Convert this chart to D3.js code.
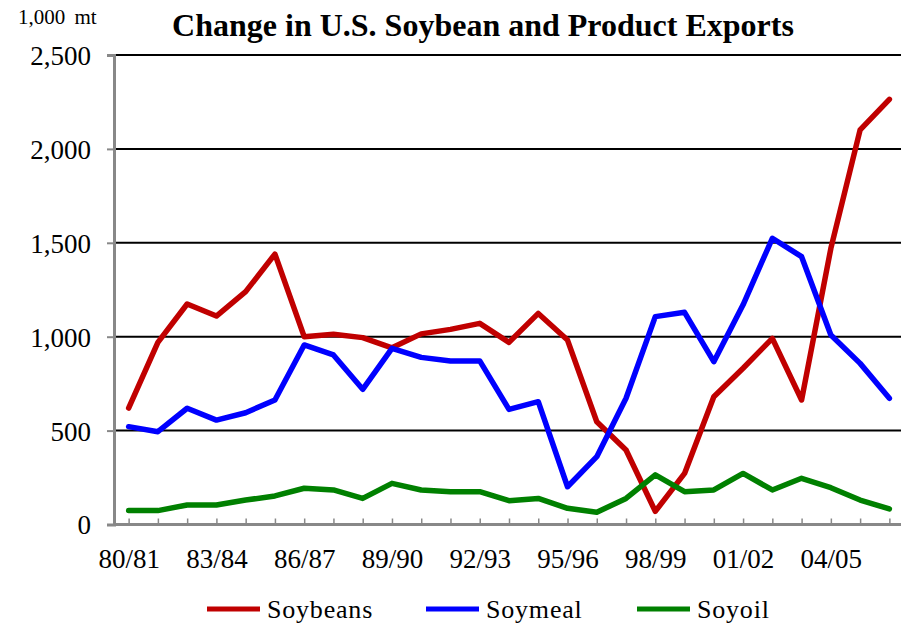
<!DOCTYPE html>
<html><head><meta charset="utf-8">
<script src="https://cdn.jsdelivr.net/npm/d3@7"></script>
<style>
html,body{margin:0;padding:0;background:#fff;}
svg{display:block;font-family:"Liberation Serif","Times New Roman",serif;}
svg text{font-family:"Liberation Serif","Times New Roman",serif;}
</style></head>
<body>
<svg id="chart" width="901" height="625"></svg>
<script>
const years = ["80/81","81/82","82/83","83/84","84/85","85/86","86/87","87/88","88/89","89/90","90/91","91/92","92/93","93/94","94/95","95/96","96/97","97/98","98/99","99/00","00/01","01/02","02/03","03/04","04/05","05/06","06/07"];
const soybeans = [620,970,1174,1110,1240,1440,1000,1013,995,941,1015,1039,1071,970,1124,982,547,397,70,272,680,832,991,663,1470,2101,2264];
const soymeal = [521,494,619,556,595,663,956,903,720,938,890,871,871,613,654,201,361,672,1107,1130,867,1170,1524,1426,1009,858,672];
const soyoil = [74,74,104,104,130,152,193,184,139,219,184,175,175,127,139,86,65,139,264,175,184,272,184,246,196,130,83];
const yTicks = [0,500,1000,1500,2000,2500];
const xLabelEvery = 3;
const seriesNames = ["Soybeans","Soymeal","Soyoil"];
const seriesColors = ["#C00000","#0000FF","#008000"];

(function(){
const svg = d3.select("#chart");
const pLeft = 114, pRight = 904, pTop = 55, pBottom = 524.5;

const x = d3.scalePoint().domain(years).range([pLeft, pRight]).padding(0.5);
const y = d3.scaleLinear().domain([0, 2500]).range([pBottom, pTop]);

// title
svg.append("text").attr("x", 483).attr("y", 36).attr("text-anchor","middle")
  .attr("font-size", 32).attr("font-weight","bold").text("Change in U.S. Soybean and Product Exports");
svg.append("text").attr("x", 18).attr("y", 24).attr("font-size", 21)
  .attr("word-spacing", 4).text("1,000 mt");

// gridlines
svg.append("g").selectAll("line").data(yTicks.filter(d=>d>0)).join("line")
  .attr("x1", pLeft).attr("x2", 901).attr("y1", d=>y(d)).attr("y2", d=>y(d))
  .attr("stroke","#000").attr("stroke-width",2);

// y axis
const yAxis = svg.append("g").attr("transform",`translate(${pLeft},0)`)
  .call(d3.axisLeft(y).tickValues(yTicks).tickSize(7).tickPadding(16).tickFormat(d3.format(",")));
yAxis.attr("font-family", null);
yAxis.select(".domain").attr("stroke","#888").attr("stroke-width",3);
yAxis.selectAll(".tick line").attr("stroke","#888").attr("stroke-width",2);
yAxis.selectAll(".tick text").attr("font-size",27).attr("fill","#000").attr("dy","0.35em");

// x axis
const xAxis = svg.append("g").attr("transform",`translate(0,${pBottom})`)
  .call(d3.axisBottom(x).tickSize(-6).tickPadding(24)
    .tickFormat((d,i)=> i % xLabelEvery === 0 ? d : ""));
xAxis.attr("font-family", null);
xAxis.select(".domain").attr("stroke","#888").attr("stroke-width",3).attr("d", `M${pLeft},0H901`);
xAxis.selectAll(".tick line").attr("stroke","#888").attr("stroke-width",1.5);
xAxis.selectAll(".tick text").attr("font-size",27).attr("fill","#000");

// lines
const allSeries = [soybeans, soymeal, soyoil];
const line = d3.line().x((d,i)=>x(years[i])).y(d=>y(d));
allSeries.forEach((s, k) => {
  svg.append("path").datum(s).attr("d", line)
    .attr("fill","none").attr("stroke", seriesColors[k]).attr("stroke-width",5.5)
    .attr("stroke-linejoin","round").attr("stroke-linecap","round");
});

// legend
const legendX = [207, 426, 637];
const lg = svg.append("g");
seriesNames.forEach((n,k)=>{
  lg.append("line").attr("x1", legendX[k]).attr("x2", legendX[k]+53)
    .attr("y1", 609).attr("y2", 609).attr("stroke", seriesColors[k]).attr("stroke-width",5);
  lg.append("text").attr("x", legendX[k]+60).attr("y", 618).attr("font-size",26)
    .attr("letter-spacing","0.8px").text(n);
});
})();
</script>
</body></html>
